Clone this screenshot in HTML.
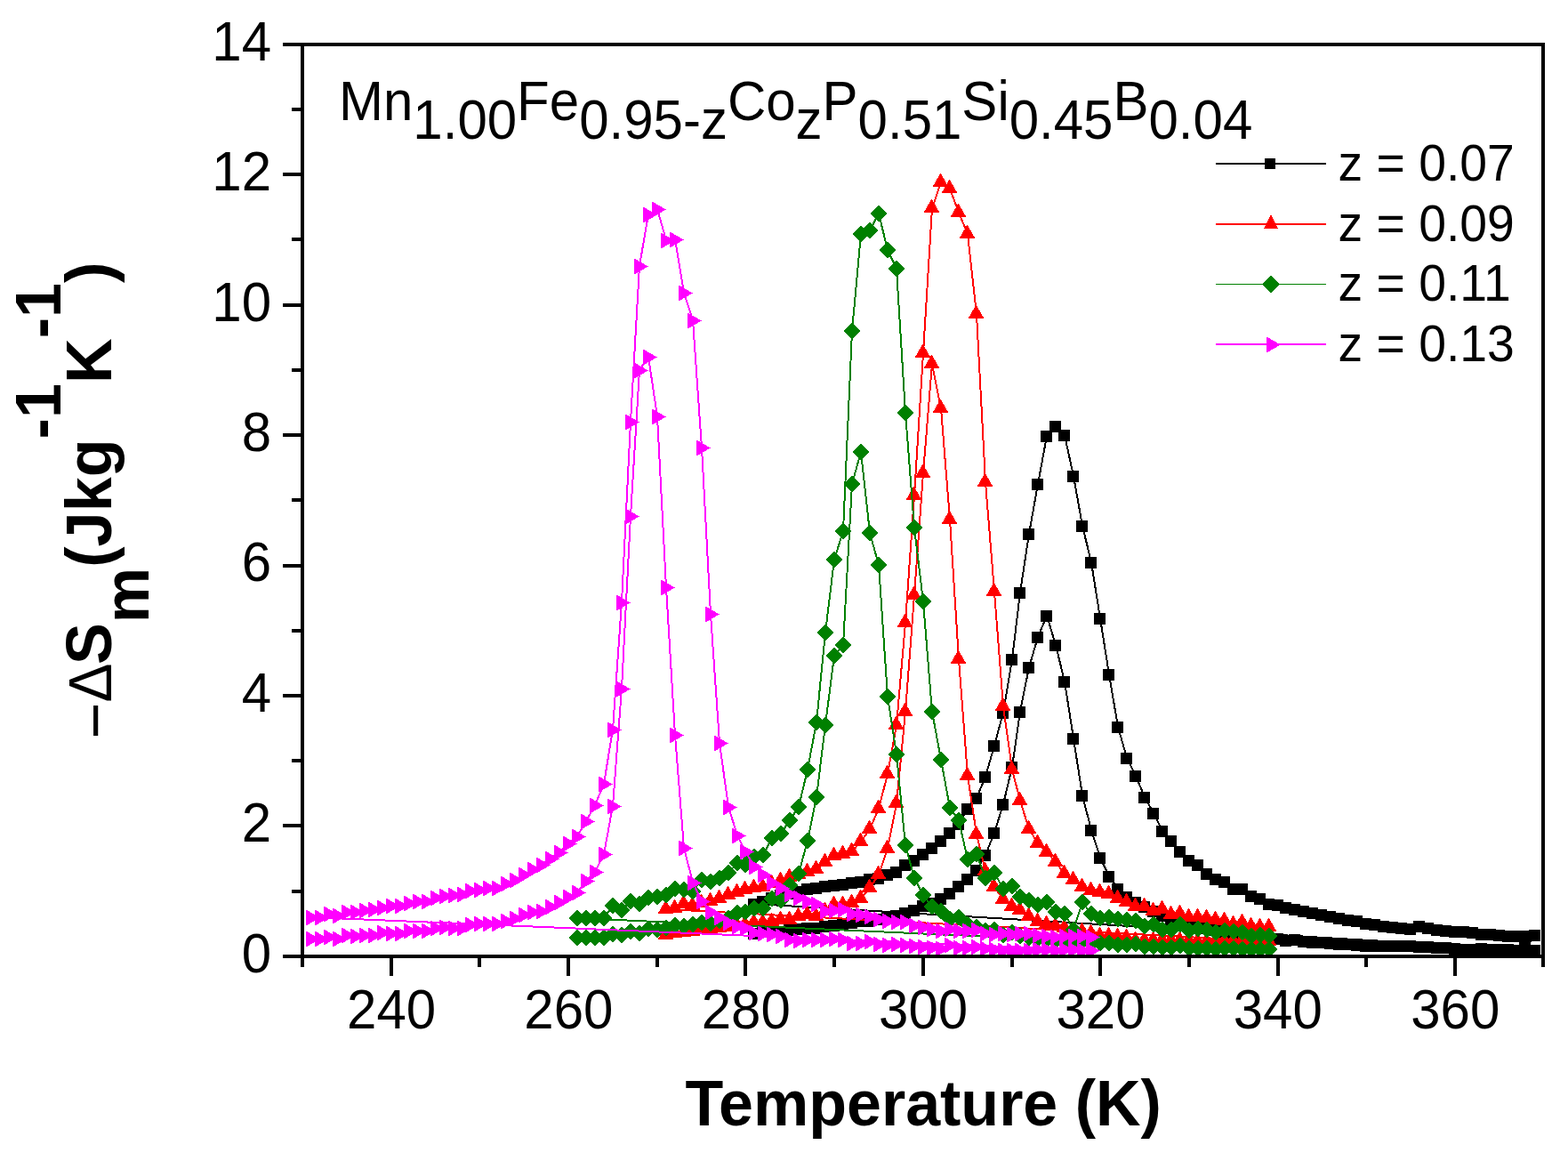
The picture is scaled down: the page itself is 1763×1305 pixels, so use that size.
<!DOCTYPE html>
<html><head><meta charset="utf-8"><title>Magnetic entropy change</title>
<style>
html,body{margin:0;padding:0;background:#fff;}
body{width:1763px;height:1305px;overflow:hidden;}
svg{display:block;}
text{font-family:"Liberation Sans",sans-serif;fill:#000;}
.b{font-weight:bold;}
</style></head><body>
<svg width="1763" height="1305" viewBox="0 0 1763 1305">
<rect width="1763" height="1305" fill="#fff"/>

<g shape-rendering="crispEdges">
<path d="M848 1049L858 1047L868 1047L878 1047L888 1045L898 1044L908 1043L918 1043L928 1041L938 1040L948 1038L958 1037L968 1035L978 1035L988 1033L998 1031L1008 1029L1018 1026L1028 1023L1038 1018L1048 1015L1058 1010L1068 1004L1078 996L1088 988L1098 978L1108 961L1118 936L1128 904L1138 862L1147 800L1157 750L1167 716L1177 692L1187 725L1197 766L1207 830L1217 894L1227 933L1237 964L1247 985L1257 999L1267 1008L1277 1014L1287 1019L1297 1024L1307 1029L1317 1033L1327 1037L1337 1039L1347 1042L1357 1043L1367 1045L1377 1047L1387 1050L1397 1051L1407 1051L1417 1052L1427 1054L1437 1055L1446 1057L1456 1056L1466 1058L1476 1059L1486 1059L1496 1060L1506 1061L1516 1061L1526 1062L1536 1063L1546 1063L1556 1063L1566 1063L1576 1063L1586 1063L1596 1064L1606 1064L1616 1065L1626 1065L1636 1066L1646 1067L1656 1067L1666 1066L1676 1067L1686 1067L1696 1067L1706 1068L1715 1061L1716 1068L1726 1068L848 1016L858 1013L868 1009L878 1006L888 1004L898 1002L908 999L918 998L928 996L938 995L948 994L958 992L968 991L978 988L988 987L998 983L1008 980L1018 972L1028 967L1038 960L1048 953L1058 945L1068 936L1078 926L1088 909L1098 897L1108 873L1118 838L1128 801L1138 741L1147 666L1157 600L1167 544L1177 490L1187 479L1197 489L1207 535L1217 591L1227 632L1237 695L1247 758L1257 817L1267 852L1277 872L1287 896L1297 914L1307 934L1317 945L1327 957L1337 967L1347 972L1357 982L1367 988L1377 991L1387 999L1397 999L1407 1007L1417 1010L1427 1016L1437 1017L1446 1020L1456 1022L1466 1024L1476 1026L1486 1028L1496 1030L1506 1032L1516 1034L1526 1035L1536 1038L1546 1039L1556 1041L1566 1042L1576 1043L1586 1044L1596 1041L1606 1043L1616 1045L1626 1046L1636 1047L1646 1047L1656 1048L1666 1050L1676 1050L1686 1051L1696 1052L1706 1052L1716 1052L1726 1051" fill="none" stroke="#000000" stroke-width="2" stroke-linejoin="round"/>
<path d="M841 1043h13v13h-13zM851 1041h13v13h-13zM861 1041h13v13h-13zM871 1041h13v13h-13zM881 1039h13v13h-13zM891 1038h13v13h-13zM901 1037h13v13h-13zM911 1037h13v13h-13zM921 1035h13v13h-13zM931 1034h13v13h-13zM941 1032h13v13h-13zM951 1031h13v13h-13zM961 1029h13v13h-13zM971 1029h13v13h-13zM981 1027h13v13h-13zM991 1025h13v13h-13zM1001 1023h13v13h-13zM1011 1020h13v13h-13zM1021 1017h13v13h-13zM1031 1012h13v13h-13zM1041 1009h13v13h-13zM1051 1004h13v13h-13zM1061 998h13v13h-13zM1071 990h13v13h-13zM1081 982h13v13h-13zM1091 972h13v13h-13zM1101 955h13v13h-13zM1111 930h13v13h-13zM1121 898h13v13h-13zM1131 856h13v13h-13zM1140 794h13v13h-13zM1150 744h13v13h-13zM1160 710h13v13h-13zM1170 686h13v13h-13zM1180 719h13v13h-13zM1190 760h13v13h-13zM1200 824h13v13h-13zM1210 888h13v13h-13zM1220 927h13v13h-13zM1230 958h13v13h-13zM1240 979h13v13h-13zM1250 993h13v13h-13zM1260 1002h13v13h-13zM1270 1008h13v13h-13zM1280 1013h13v13h-13zM1290 1018h13v13h-13zM1300 1023h13v13h-13zM1310 1027h13v13h-13zM1320 1031h13v13h-13zM1330 1033h13v13h-13zM1340 1036h13v13h-13zM1350 1037h13v13h-13zM1360 1039h13v13h-13zM1370 1041h13v13h-13zM1380 1044h13v13h-13zM1390 1045h13v13h-13zM1400 1045h13v13h-13zM1410 1046h13v13h-13zM1420 1048h13v13h-13zM1430 1049h13v13h-13zM1439 1051h13v13h-13zM1449 1050h13v13h-13zM1459 1052h13v13h-13zM1469 1053h13v13h-13zM1479 1053h13v13h-13zM1489 1054h13v13h-13zM1499 1055h13v13h-13zM1509 1055h13v13h-13zM1519 1056h13v13h-13zM1529 1057h13v13h-13zM1539 1057h13v13h-13zM1549 1057h13v13h-13zM1559 1057h13v13h-13zM1569 1057h13v13h-13zM1579 1057h13v13h-13zM1589 1058h13v13h-13zM1599 1058h13v13h-13zM1609 1059h13v13h-13zM1619 1059h13v13h-13zM1629 1060h13v13h-13zM1639 1061h13v13h-13zM1649 1061h13v13h-13zM1659 1060h13v13h-13zM1669 1061h13v13h-13zM1679 1061h13v13h-13zM1689 1061h13v13h-13zM1699 1062h13v13h-13zM1708 1055h13v13h-13zM1709 1062h13v13h-13zM1719 1062h13v13h-13zM841 1010h13v13h-13zM851 1007h13v13h-13zM861 1003h13v13h-13zM871 1000h13v13h-13zM881 998h13v13h-13zM891 996h13v13h-13zM901 993h13v13h-13zM911 992h13v13h-13zM921 990h13v13h-13zM931 989h13v13h-13zM941 988h13v13h-13zM951 986h13v13h-13zM961 985h13v13h-13zM971 982h13v13h-13zM981 981h13v13h-13zM991 977h13v13h-13zM1001 974h13v13h-13zM1011 966h13v13h-13zM1021 961h13v13h-13zM1031 954h13v13h-13zM1041 947h13v13h-13zM1051 939h13v13h-13zM1061 930h13v13h-13zM1071 920h13v13h-13zM1081 903h13v13h-13zM1091 891h13v13h-13zM1101 867h13v13h-13zM1111 832h13v13h-13zM1121 795h13v13h-13zM1131 735h13v13h-13zM1140 660h13v13h-13zM1150 594h13v13h-13zM1160 538h13v13h-13zM1170 484h13v13h-13zM1180 473h13v13h-13zM1190 483h13v13h-13zM1200 529h13v13h-13zM1210 585h13v13h-13zM1220 626h13v13h-13zM1230 689h13v13h-13zM1240 752h13v13h-13zM1250 811h13v13h-13zM1260 846h13v13h-13zM1270 866h13v13h-13zM1280 890h13v13h-13zM1290 908h13v13h-13zM1300 928h13v13h-13zM1310 939h13v13h-13zM1320 951h13v13h-13zM1330 961h13v13h-13zM1340 966h13v13h-13zM1350 976h13v13h-13zM1360 982h13v13h-13zM1370 985h13v13h-13zM1380 993h13v13h-13zM1390 993h13v13h-13zM1400 1001h13v13h-13zM1410 1004h13v13h-13zM1420 1010h13v13h-13zM1430 1011h13v13h-13zM1439 1014h13v13h-13zM1449 1016h13v13h-13zM1459 1018h13v13h-13zM1469 1020h13v13h-13zM1479 1022h13v13h-13zM1489 1024h13v13h-13zM1499 1026h13v13h-13zM1509 1028h13v13h-13zM1519 1029h13v13h-13zM1529 1032h13v13h-13zM1539 1033h13v13h-13zM1549 1035h13v13h-13zM1559 1036h13v13h-13zM1569 1037h13v13h-13zM1579 1038h13v13h-13zM1589 1035h13v13h-13zM1599 1037h13v13h-13zM1609 1039h13v13h-13zM1619 1040h13v13h-13zM1629 1041h13v13h-13zM1639 1041h13v13h-13zM1649 1042h13v13h-13zM1659 1044h13v13h-13zM1669 1044h13v13h-13zM1679 1045h13v13h-13zM1689 1046h13v13h-13zM1699 1046h13v13h-13zM1709 1046h13v13h-13zM1719 1045h13v13h-13z" fill="#000000"/>
<path d="M749 1051L759 1049L769 1048L779 1047L789 1045L799 1044L809 1043L819 1042L829 1040L838 1039L848 1037L858 1037L868 1036L878 1034L888 1034L898 1030L908 1028L918 1030L928 1024L938 1017L948 1017L958 1015L968 1010L978 998L988 983L998 954L1008 903L1018 800L1028 669L1038 532L1048 409L1058 459L1068 584L1078 741L1088 872L1098 938L1108 979L1118 997L1128 1011L1138 1019L1147 1023L1157 1030L1167 1036L1177 1039L1187 1041L1197 1043L1207 1046L1217 1047L1227 1049L1237 1052L1247 1052L1257 1053L1267 1054L1277 1057L1287 1057L1297 1057L1307 1057L1317 1057L1327 1057L1337 1057L1347 1058L1357 1058L1367 1058L1377 1058L1387 1058L1397 1057L1407 1058L1417 1057L1427 1058L749 1022L759 1021L769 1016L779 1018L789 1015L799 1013L809 1010L819 1006L829 1003L838 1000L848 998L858 997L868 993L878 990L888 986L898 983L908 980L918 977L928 969L938 962L948 960L958 957L968 946L978 932L988 909L998 870L1008 815L1018 700L1028 557L1038 397L1048 234L1058 205L1068 212L1078 239L1088 263L1098 353L1108 542L1118 665L1128 794L1138 865L1147 900L1157 932L1167 948L1177 958L1187 969L1197 982L1207 989L1217 997L1227 1001L1237 1003L1247 1005L1257 1010L1267 1014L1277 1019L1287 1019L1297 1024L1307 1022L1317 1028L1327 1027L1337 1031L1347 1031L1357 1032L1367 1034L1377 1035L1387 1039L1397 1037L1407 1041L1417 1042L1427 1042" fill="none" stroke="#ff0000" stroke-width="2" stroke-linejoin="round"/>
<path d="M748.5 1040.5L757.5 1056H739.5zM758.5 1038.5L767.5 1054H749.5zM768.5 1037.5L777.5 1053H759.5zM778.5 1036.5L787.5 1052H769.5zM788.5 1034.5L797.5 1050H779.5zM798.5 1033.5L807.5 1049H789.5zM808.5 1032.5L817.5 1048H799.5zM818.5 1031.5L827.5 1047H809.5zM828.5 1029.5L837.5 1045H819.5zM837.5 1028.5L846.5 1044H828.5zM847.5 1026.5L856.5 1042H838.5zM857.5 1026.5L866.5 1042H848.5zM867.5 1025.5L876.5 1041H858.5zM877.5 1023.5L886.5 1039H868.5zM887.5 1023.5L896.5 1039H878.5zM897.5 1019.5L906.5 1035H888.5zM907.5 1017.5L916.5 1033H898.5zM917.5 1019.5L926.5 1035H908.5zM927.5 1013.5L936.5 1029H918.5zM937.5 1006.5L946.5 1022H928.5zM947.5 1006.5L956.5 1022H938.5zM957.5 1004.5L966.5 1020H948.5zM967.5 999.5L976.5 1015H958.5zM977.5 987.5L986.5 1003H968.5zM987.5 972.5L996.5 988H978.5zM997.5 943.5L1006.5 959H988.5zM1007.5 892.5L1016.5 908H998.5zM1017.5 789.5L1026.5 805H1008.5zM1027.5 658.5L1036.5 674H1018.5zM1037.5 521.5L1046.5 537H1028.5zM1047.5 398.5L1056.5 414H1038.5zM1057.5 448.5L1066.5 464H1048.5zM1067.5 573.5L1076.5 589H1058.5zM1077.5 730.5L1086.5 746H1068.5zM1087.5 861.5L1096.5 877H1078.5zM1097.5 927.5L1106.5 943H1088.5zM1107.5 968.5L1116.5 984H1098.5zM1117.5 986.5L1126.5 1002H1108.5zM1127.5 1000.5L1136.5 1016H1118.5zM1137.5 1008.5L1146.5 1024H1128.5zM1146.5 1012.5L1155.5 1028H1137.5zM1156.5 1019.5L1165.5 1035H1147.5zM1166.5 1025.5L1175.5 1041H1157.5zM1176.5 1028.5L1185.5 1044H1167.5zM1186.5 1030.5L1195.5 1046H1177.5zM1196.5 1032.5L1205.5 1048H1187.5zM1206.5 1035.5L1215.5 1051H1197.5zM1216.5 1036.5L1225.5 1052H1207.5zM1226.5 1038.5L1235.5 1054H1217.5zM1236.5 1041.5L1245.5 1057H1227.5zM1246.5 1041.5L1255.5 1057H1237.5zM1256.5 1042.5L1265.5 1058H1247.5zM1266.5 1043.5L1275.5 1059H1257.5zM1276.5 1046.5L1285.5 1062H1267.5zM1286.5 1046.5L1295.5 1062H1277.5zM1296.5 1046.5L1305.5 1062H1287.5zM1306.5 1046.5L1315.5 1062H1297.5zM1316.5 1046.5L1325.5 1062H1307.5zM1326.5 1046.5L1335.5 1062H1317.5zM1336.5 1046.5L1345.5 1062H1327.5zM1346.5 1047.5L1355.5 1063H1337.5zM1356.5 1047.5L1365.5 1063H1347.5zM1366.5 1047.5L1375.5 1063H1357.5zM1376.5 1047.5L1385.5 1063H1367.5zM1386.5 1047.5L1395.5 1063H1377.5zM1396.5 1046.5L1405.5 1062H1387.5zM1406.5 1047.5L1415.5 1063H1397.5zM1416.5 1046.5L1425.5 1062H1407.5zM1426.5 1047.5L1435.5 1063H1417.5zM748.5 1011.5L757.5 1027H739.5zM758.5 1010.5L767.5 1026H749.5zM768.5 1005.5L777.5 1021H759.5zM778.5 1007.5L787.5 1023H769.5zM788.5 1004.5L797.5 1020H779.5zM798.5 1002.5L807.5 1018H789.5zM808.5 999.5L817.5 1015H799.5zM818.5 995.5L827.5 1011H809.5zM828.5 992.5L837.5 1008H819.5zM837.5 989.5L846.5 1005H828.5zM847.5 987.5L856.5 1003H838.5zM857.5 986.5L866.5 1002H848.5zM867.5 982.5L876.5 998H858.5zM877.5 979.5L886.5 995H868.5zM887.5 975.5L896.5 991H878.5zM897.5 972.5L906.5 988H888.5zM907.5 969.5L916.5 985H898.5zM917.5 966.5L926.5 982H908.5zM927.5 958.5L936.5 974H918.5zM937.5 951.5L946.5 967H928.5zM947.5 949.5L956.5 965H938.5zM957.5 946.5L966.5 962H948.5zM967.5 935.5L976.5 951H958.5zM977.5 921.5L986.5 937H968.5zM987.5 898.5L996.5 914H978.5zM997.5 859.5L1006.5 875H988.5zM1007.5 804.5L1016.5 820H998.5zM1017.5 689.5L1026.5 705H1008.5zM1027.5 546.5L1036.5 562H1018.5zM1037.5 386.5L1046.5 402H1028.5zM1047.5 223.5L1056.5 239H1038.5zM1057.5 194.5L1066.5 210H1048.5zM1067.5 201.5L1076.5 217H1058.5zM1077.5 228.5L1086.5 244H1068.5zM1087.5 252.5L1096.5 268H1078.5zM1097.5 342.5L1106.5 358H1088.5zM1107.5 531.5L1116.5 547H1098.5zM1117.5 654.5L1126.5 670H1108.5zM1127.5 783.5L1136.5 799H1118.5zM1137.5 854.5L1146.5 870H1128.5zM1146.5 889.5L1155.5 905H1137.5zM1156.5 921.5L1165.5 937H1147.5zM1166.5 937.5L1175.5 953H1157.5zM1176.5 947.5L1185.5 963H1167.5zM1186.5 958.5L1195.5 974H1177.5zM1196.5 971.5L1205.5 987H1187.5zM1206.5 978.5L1215.5 994H1197.5zM1216.5 986.5L1225.5 1002H1207.5zM1226.5 990.5L1235.5 1006H1217.5zM1236.5 992.5L1245.5 1008H1227.5zM1246.5 994.5L1255.5 1010H1237.5zM1256.5 999.5L1265.5 1015H1247.5zM1266.5 1003.5L1275.5 1019H1257.5zM1276.5 1008.5L1285.5 1024H1267.5zM1286.5 1008.5L1295.5 1024H1277.5zM1296.5 1013.5L1305.5 1029H1287.5zM1306.5 1011.5L1315.5 1027H1297.5zM1316.5 1017.5L1325.5 1033H1307.5zM1326.5 1016.5L1335.5 1032H1317.5zM1336.5 1020.5L1345.5 1036H1327.5zM1346.5 1020.5L1355.5 1036H1337.5zM1356.5 1021.5L1365.5 1037H1347.5zM1366.5 1023.5L1375.5 1039H1357.5zM1376.5 1024.5L1385.5 1040H1367.5zM1386.5 1028.5L1395.5 1044H1377.5zM1396.5 1026.5L1405.5 1042H1387.5zM1406.5 1030.5L1415.5 1046H1397.5zM1416.5 1031.5L1425.5 1047H1407.5zM1426.5 1031.5L1435.5 1047H1417.5z" fill="#ff0000"/>
<path d="M649 1054L659 1054L669 1054L679 1054L689 1050L699 1051L709 1047L719 1049L729 1044L739 1045L749 1043L759 1040L769 1041L779 1039L789 1037L799 1038L809 1035L819 1032L829 1026L838 1025L848 1021L858 1021L868 1010L878 1012L888 995L898 982L908 945L918 896L928 815L938 737L948 725L958 544L968 508L978 599L988 635L998 783L1008 848L1018 950L1028 987L1038 1006L1048 1019L1058 1024L1068 1033L1078 1031L1088 1039L1098 1042L1108 1046L1118 1045L1128 1051L1138 1048L1147 1052L1157 1054L1167 1055L1177 1056L1187 1057L1197 1058L1207 1058L1217 1058L1227 1060L1237 1060L1247 1060L1257 1062L1267 1062L1277 1061L1287 1064L1297 1064L1307 1065L1317 1065L1327 1063L1337 1066L1347 1066L1357 1066L1367 1067L1377 1066L1387 1066L1397 1067L1407 1067L1417 1067L1427 1067L649 1032L659 1032L669 1032L679 1032L689 1018L699 1023L709 1013L719 1016L729 1009L739 1008L749 1006L759 999L769 1000L779 1002L789 989L799 991L809 987L819 981L829 970L838 972L848 963L858 961L868 942L878 937L888 922L898 907L908 865L918 812L928 711L938 629L948 597L958 372L968 263L978 259L988 240L998 281L1008 302L1018 464L1028 593L1038 676L1048 800L1058 854L1068 908L1078 922L1088 966L1098 960L1108 987L1118 981L1128 999L1138 996L1147 1008L1157 1012L1167 1017L1177 1014L1187 1025L1197 1027L1207 1045L1217 1014L1227 1027L1237 1032L1247 1031L1257 1033L1267 1034L1277 1035L1287 1041L1297 1039L1307 1045L1317 1045L1327 1039L1337 1046L1347 1044L1357 1045L1367 1048L1377 1046L1387 1047L1397 1048L1407 1052L1417 1051L1427 1052" fill="none" stroke="#008000" stroke-width="2" stroke-linejoin="round"/>
<path d="M639.5 1054L649 1044L658.5 1054L649 1064zM649.5 1054L659 1044L668.5 1054L659 1064zM659.5 1054L669 1044L678.5 1054L669 1064zM669.5 1054L679 1044L688.5 1054L679 1064zM679.5 1050L689 1040L698.5 1050L689 1060zM689.5 1051L699 1041L708.5 1051L699 1061zM699.5 1047L709 1037L718.5 1047L709 1057zM709.5 1049L719 1039L728.5 1049L719 1059zM719.5 1044L729 1034L738.5 1044L729 1054zM729.5 1045L739 1035L748.5 1045L739 1055zM739.5 1043L749 1033L758.5 1043L749 1053zM749.5 1040L759 1030L768.5 1040L759 1050zM759.5 1041L769 1031L778.5 1041L769 1051zM769.5 1039L779 1029L788.5 1039L779 1049zM779.5 1037L789 1027L798.5 1037L789 1047zM789.5 1038L799 1028L808.5 1038L799 1048zM799.5 1035L809 1025L818.5 1035L809 1045zM809.5 1032L819 1022L828.5 1032L819 1042zM819.5 1026L829 1016L838.5 1026L829 1036zM828.5 1025L838 1015L847.5 1025L838 1035zM838.5 1021L848 1011L857.5 1021L848 1031zM848.5 1021L858 1011L867.5 1021L858 1031zM858.5 1010L868 1000L877.5 1010L868 1020zM868.5 1012L878 1002L887.5 1012L878 1022zM878.5 995L888 985L897.5 995L888 1005zM888.5 982L898 972L907.5 982L898 992zM898.5 945L908 935L917.5 945L908 955zM908.5 896L918 886L927.5 896L918 906zM918.5 815L928 805L937.5 815L928 825zM928.5 737L938 727L947.5 737L938 747zM938.5 725L948 715L957.5 725L948 735zM948.5 544L958 534L967.5 544L958 554zM958.5 508L968 498L977.5 508L968 518zM968.5 599L978 589L987.5 599L978 609zM978.5 635L988 625L997.5 635L988 645zM988.5 783L998 773L1007.5 783L998 793zM998.5 848L1008 838L1017.5 848L1008 858zM1008.5 950L1018 940L1027.5 950L1018 960zM1018.5 987L1028 977L1037.5 987L1028 997zM1028.5 1006L1038 996L1047.5 1006L1038 1016zM1038.5 1019L1048 1009L1057.5 1019L1048 1029zM1048.5 1024L1058 1014L1067.5 1024L1058 1034zM1058.5 1033L1068 1023L1077.5 1033L1068 1043zM1068.5 1031L1078 1021L1087.5 1031L1078 1041zM1078.5 1039L1088 1029L1097.5 1039L1088 1049zM1088.5 1042L1098 1032L1107.5 1042L1098 1052zM1098.5 1046L1108 1036L1117.5 1046L1108 1056zM1108.5 1045L1118 1035L1127.5 1045L1118 1055zM1118.5 1051L1128 1041L1137.5 1051L1128 1061zM1128.5 1048L1138 1038L1147.5 1048L1138 1058zM1137.5 1052L1147 1042L1156.5 1052L1147 1062zM1147.5 1054L1157 1044L1166.5 1054L1157 1064zM1157.5 1055L1167 1045L1176.5 1055L1167 1065zM1167.5 1056L1177 1046L1186.5 1056L1177 1066zM1177.5 1057L1187 1047L1196.5 1057L1187 1067zM1187.5 1058L1197 1048L1206.5 1058L1197 1068zM1197.5 1058L1207 1048L1216.5 1058L1207 1068zM1207.5 1058L1217 1048L1226.5 1058L1217 1068zM1217.5 1060L1227 1050L1236.5 1060L1227 1070zM1227.5 1060L1237 1050L1246.5 1060L1237 1070zM1237.5 1060L1247 1050L1256.5 1060L1247 1070zM1247.5 1062L1257 1052L1266.5 1062L1257 1072zM1257.5 1062L1267 1052L1276.5 1062L1267 1072zM1267.5 1061L1277 1051L1286.5 1061L1277 1071zM1277.5 1064L1287 1054L1296.5 1064L1287 1074zM1287.5 1064L1297 1054L1306.5 1064L1297 1074zM1297.5 1065L1307 1055L1316.5 1065L1307 1075zM1307.5 1065L1317 1055L1326.5 1065L1317 1075zM1317.5 1063L1327 1053L1336.5 1063L1327 1073zM1327.5 1066L1337 1056L1346.5 1066L1337 1076zM1337.5 1066L1347 1056L1356.5 1066L1347 1076zM1347.5 1066L1357 1056L1366.5 1066L1357 1076zM1357.5 1067L1367 1057L1376.5 1067L1367 1077zM1367.5 1066L1377 1056L1386.5 1066L1377 1076zM1377.5 1066L1387 1056L1396.5 1066L1387 1076zM1387.5 1067L1397 1057L1406.5 1067L1397 1077zM1397.5 1067L1407 1057L1416.5 1067L1407 1077zM1407.5 1067L1417 1057L1426.5 1067L1417 1077zM1417.5 1067L1427 1057L1436.5 1067L1427 1077zM639.5 1032L649 1022L658.5 1032L649 1042zM649.5 1032L659 1022L668.5 1032L659 1042zM659.5 1032L669 1022L678.5 1032L669 1042zM669.5 1032L679 1022L688.5 1032L679 1042zM679.5 1018L689 1008L698.5 1018L689 1028zM689.5 1023L699 1013L708.5 1023L699 1033zM699.5 1013L709 1003L718.5 1013L709 1023zM709.5 1016L719 1006L728.5 1016L719 1026zM719.5 1009L729 999L738.5 1009L729 1019zM729.5 1008L739 998L748.5 1008L739 1018zM739.5 1006L749 996L758.5 1006L749 1016zM749.5 999L759 989L768.5 999L759 1009zM759.5 1000L769 990L778.5 1000L769 1010zM769.5 1002L779 992L788.5 1002L779 1012zM779.5 989L789 979L798.5 989L789 999zM789.5 991L799 981L808.5 991L799 1001zM799.5 987L809 977L818.5 987L809 997zM809.5 981L819 971L828.5 981L819 991zM819.5 970L829 960L838.5 970L829 980zM828.5 972L838 962L847.5 972L838 982zM838.5 963L848 953L857.5 963L848 973zM848.5 961L858 951L867.5 961L858 971zM858.5 942L868 932L877.5 942L868 952zM868.5 937L878 927L887.5 937L878 947zM878.5 922L888 912L897.5 922L888 932zM888.5 907L898 897L907.5 907L898 917zM898.5 865L908 855L917.5 865L908 875zM908.5 812L918 802L927.5 812L918 822zM918.5 711L928 701L937.5 711L928 721zM928.5 629L938 619L947.5 629L938 639zM938.5 597L948 587L957.5 597L948 607zM948.5 372L958 362L967.5 372L958 382zM958.5 263L968 253L977.5 263L968 273zM968.5 259L978 249L987.5 259L978 269zM978.5 240L988 230L997.5 240L988 250zM988.5 281L998 271L1007.5 281L998 291zM998.5 302L1008 292L1017.5 302L1008 312zM1008.5 464L1018 454L1027.5 464L1018 474zM1018.5 593L1028 583L1037.5 593L1028 603zM1028.5 676L1038 666L1047.5 676L1038 686zM1038.5 800L1048 790L1057.5 800L1048 810zM1048.5 854L1058 844L1067.5 854L1058 864zM1058.5 908L1068 898L1077.5 908L1068 918zM1068.5 922L1078 912L1087.5 922L1078 932zM1078.5 966L1088 956L1097.5 966L1088 976zM1088.5 960L1098 950L1107.5 960L1098 970zM1098.5 987L1108 977L1117.5 987L1108 997zM1108.5 981L1118 971L1127.5 981L1118 991zM1118.5 999L1128 989L1137.5 999L1128 1009zM1128.5 996L1138 986L1147.5 996L1138 1006zM1137.5 1008L1147 998L1156.5 1008L1147 1018zM1147.5 1012L1157 1002L1166.5 1012L1157 1022zM1157.5 1017L1167 1007L1176.5 1017L1167 1027zM1167.5 1014L1177 1004L1186.5 1014L1177 1024zM1177.5 1025L1187 1015L1196.5 1025L1187 1035zM1187.5 1027L1197 1017L1206.5 1027L1197 1037zM1197.5 1045L1207 1035L1216.5 1045L1207 1055zM1207.5 1014L1217 1004L1226.5 1014L1217 1024zM1217.5 1027L1227 1017L1236.5 1027L1227 1037zM1227.5 1032L1237 1022L1246.5 1032L1237 1042zM1237.5 1031L1247 1021L1256.5 1031L1247 1041zM1247.5 1033L1257 1023L1266.5 1033L1257 1043zM1257.5 1034L1267 1024L1276.5 1034L1267 1044zM1267.5 1035L1277 1025L1286.5 1035L1277 1045zM1277.5 1041L1287 1031L1296.5 1041L1287 1051zM1287.5 1039L1297 1029L1306.5 1039L1297 1049zM1297.5 1045L1307 1035L1316.5 1045L1307 1055zM1307.5 1045L1317 1035L1326.5 1045L1317 1055zM1317.5 1039L1327 1029L1336.5 1039L1327 1049zM1327.5 1046L1337 1036L1346.5 1046L1337 1056zM1337.5 1044L1347 1034L1356.5 1044L1347 1054zM1347.5 1045L1357 1035L1366.5 1045L1357 1055zM1357.5 1048L1367 1038L1376.5 1048L1367 1058zM1367.5 1046L1377 1036L1386.5 1046L1377 1056zM1377.5 1047L1387 1037L1396.5 1047L1387 1057zM1387.5 1048L1397 1038L1406.5 1048L1397 1058zM1397.5 1052L1407 1042L1416.5 1052L1407 1062zM1407.5 1051L1417 1041L1426.5 1051L1417 1061zM1417.5 1052L1427 1042L1436.5 1052L1427 1062z" fill="#008000"/>
<path d="M350 1055L360 1055L370 1053L380 1055L390 1051L400 1052L410 1051L420 1051L430 1048L440 1049L450 1049L460 1046L470 1046L480 1046L490 1043L500 1042L510 1043L520 1043L529 1039L539 1038L549 1038L559 1038L569 1035L579 1032L589 1028L599 1025L609 1024L619 1019L629 1014L639 1008L649 1003L659 990L669 980L679 960L689 906L699 774L709 580L719 416L729 401L739 468L749 660L759 826L769 953L779 992L789 1013L799 1025L809 1031L819 1037L829 1041L838 1043L848 1048L858 1049L868 1050L878 1052L888 1056L898 1057L908 1056L918 1056L928 1056L938 1055L948 1056L958 1060L968 1060L978 1058L988 1061L998 1062L1008 1061L1018 1062L1028 1063L1038 1064L1048 1065L1058 1066L1068 1062L1078 1065L1088 1065L1098 1064L1108 1066L1118 1067L1128 1068L1138 1068L1147 1068L1157 1068L1167 1067L1177 1067L1187 1068L1197 1067L1207 1067L1217 1068L1227 1068L350 1031L360 1031L370 1027L380 1029L390 1025L400 1025L410 1023L420 1022L430 1020L440 1018L450 1018L460 1015L470 1013L480 1013L490 1009L500 1007L510 1006L520 1005L529 1001L539 1000L549 998L559 998L569 993L579 989L589 983L599 977L609 972L619 965L629 958L639 948L649 940L659 923L669 905L679 881L689 820L699 677L709 474L719 299L729 241L739 235L749 270L759 269L769 329L779 360L789 503L799 690L809 835L819 907L829 939L838 957L848 974L858 983L868 992L878 998L888 1005L898 1009L908 1013L918 1016L928 1024L938 1023L948 1022L958 1027L968 1028L978 1030L988 1033L998 1035L1008 1036L1018 1036L1028 1040L1038 1042L1048 1044L1058 1046L1068 1044L1078 1046L1088 1046L1098 1045L1108 1049L1118 1050L1128 1049L1138 1050L1147 1049L1157 1049L1167 1051L1177 1052L1187 1053L1197 1052L1207 1052L1217 1052L1227 1053" fill="none" stroke="#ff00ff" stroke-width="2" stroke-linejoin="round"/>
<path d="M344 1046.5L360 1055.5L344 1064.5zM354 1046.5L370 1055.5L354 1064.5zM364 1044.5L380 1053.5L364 1062.5zM374 1046.5L390 1055.5L374 1064.5zM384 1042.5L400 1051.5L384 1060.5zM394 1043.5L410 1052.5L394 1061.5zM404 1042.5L420 1051.5L404 1060.5zM414 1042.5L430 1051.5L414 1060.5zM424 1039.5L440 1048.5L424 1057.5zM434 1040.5L450 1049.5L434 1058.5zM444 1040.5L460 1049.5L444 1058.5zM454 1037.5L470 1046.5L454 1055.5zM464 1037.5L480 1046.5L464 1055.5zM474 1037.5L490 1046.5L474 1055.5zM484 1034.5L500 1043.5L484 1052.5zM494 1033.5L510 1042.5L494 1051.5zM504 1034.5L520 1043.5L504 1052.5zM514 1034.5L530 1043.5L514 1052.5zM523 1030.5L539 1039.5L523 1048.5zM533 1029.5L549 1038.5L533 1047.5zM543 1029.5L559 1038.5L543 1047.5zM553 1029.5L569 1038.5L553 1047.5zM563 1026.5L579 1035.5L563 1044.5zM573 1023.5L589 1032.5L573 1041.5zM583 1019.5L599 1028.5L583 1037.5zM593 1016.5L609 1025.5L593 1034.5zM603 1015.5L619 1024.5L603 1033.5zM613 1010.5L629 1019.5L613 1028.5zM623 1005.5L639 1014.5L623 1023.5zM633 999.5L649 1008.5L633 1017.5zM643 994.5L659 1003.5L643 1012.5zM653 981.5L669 990.5L653 999.5zM663 971.5L679 980.5L663 989.5zM673 951.5L689 960.5L673 969.5zM683 897.5L699 906.5L683 915.5zM693 765.5L709 774.5L693 783.5zM703 571.5L719 580.5L703 589.5zM713 407.5L729 416.5L713 425.5zM723 392.5L739 401.5L723 410.5zM733 459.5L749 468.5L733 477.5zM743 651.5L759 660.5L743 669.5zM753 817.5L769 826.5L753 835.5zM763 944.5L779 953.5L763 962.5zM773 983.5L789 992.5L773 1001.5zM783 1004.5L799 1013.5L783 1022.5zM793 1016.5L809 1025.5L793 1034.5zM803 1022.5L819 1031.5L803 1040.5zM813 1028.5L829 1037.5L813 1046.5zM823 1032.5L839 1041.5L823 1050.5zM832 1034.5L848 1043.5L832 1052.5zM842 1039.5L858 1048.5L842 1057.5zM852 1040.5L868 1049.5L852 1058.5zM862 1041.5L878 1050.5L862 1059.5zM872 1043.5L888 1052.5L872 1061.5zM882 1047.5L898 1056.5L882 1065.5zM892 1048.5L908 1057.5L892 1066.5zM902 1047.5L918 1056.5L902 1065.5zM912 1047.5L928 1056.5L912 1065.5zM922 1047.5L938 1056.5L922 1065.5zM932 1046.5L948 1055.5L932 1064.5zM942 1047.5L958 1056.5L942 1065.5zM952 1051.5L968 1060.5L952 1069.5zM962 1051.5L978 1060.5L962 1069.5zM972 1049.5L988 1058.5L972 1067.5zM982 1052.5L998 1061.5L982 1070.5zM992 1053.5L1008 1062.5L992 1071.5zM1002 1052.5L1018 1061.5L1002 1070.5zM1012 1053.5L1028 1062.5L1012 1071.5zM1022 1054.5L1038 1063.5L1022 1072.5zM1032 1055.5L1048 1064.5L1032 1073.5zM1042 1056.5L1058 1065.5L1042 1074.5zM1052 1057.5L1068 1066.5L1052 1075.5zM1062 1053.5L1078 1062.5L1062 1071.5zM1072 1056.5L1088 1065.5L1072 1074.5zM1082 1056.5L1098 1065.5L1082 1074.5zM1092 1055.5L1108 1064.5L1092 1073.5zM1102 1057.5L1118 1066.5L1102 1075.5zM1112 1058.5L1128 1067.5L1112 1076.5zM1122 1059.5L1138 1068.5L1122 1077.5zM1132 1059.5L1148 1068.5L1132 1077.5zM1141 1059.5L1157 1068.5L1141 1077.5zM1151 1059.5L1167 1068.5L1151 1077.5zM1161 1058.5L1177 1067.5L1161 1076.5zM1171 1058.5L1187 1067.5L1171 1076.5zM1181 1059.5L1197 1068.5L1181 1077.5zM1191 1058.5L1207 1067.5L1191 1076.5zM1201 1058.5L1217 1067.5L1201 1076.5zM1211 1059.5L1227 1068.5L1211 1077.5zM1221 1059.5L1237 1068.5L1221 1077.5zM344 1022.5L360 1031.5L344 1040.5zM354 1022.5L370 1031.5L354 1040.5zM364 1018.5L380 1027.5L364 1036.5zM374 1020.5L390 1029.5L374 1038.5zM384 1016.5L400 1025.5L384 1034.5zM394 1016.5L410 1025.5L394 1034.5zM404 1014.5L420 1023.5L404 1032.5zM414 1013.5L430 1022.5L414 1031.5zM424 1011.5L440 1020.5L424 1029.5zM434 1009.5L450 1018.5L434 1027.5zM444 1009.5L460 1018.5L444 1027.5zM454 1006.5L470 1015.5L454 1024.5zM464 1004.5L480 1013.5L464 1022.5zM474 1004.5L490 1013.5L474 1022.5zM484 1000.5L500 1009.5L484 1018.5zM494 998.5L510 1007.5L494 1016.5zM504 997.5L520 1006.5L504 1015.5zM514 996.5L530 1005.5L514 1014.5zM523 992.5L539 1001.5L523 1010.5zM533 991.5L549 1000.5L533 1009.5zM543 989.5L559 998.5L543 1007.5zM553 989.5L569 998.5L553 1007.5zM563 984.5L579 993.5L563 1002.5zM573 980.5L589 989.5L573 998.5zM583 974.5L599 983.5L583 992.5zM593 968.5L609 977.5L593 986.5zM603 963.5L619 972.5L603 981.5zM613 956.5L629 965.5L613 974.5zM623 949.5L639 958.5L623 967.5zM633 939.5L649 948.5L633 957.5zM643 931.5L659 940.5L643 949.5zM653 914.5L669 923.5L653 932.5zM663 896.5L679 905.5L663 914.5zM673 872.5L689 881.5L673 890.5zM683 811.5L699 820.5L683 829.5zM693 668.5L709 677.5L693 686.5zM703 465.5L719 474.5L703 483.5zM713 290.5L729 299.5L713 308.5zM723 232.5L739 241.5L723 250.5zM733 226.5L749 235.5L733 244.5zM743 261.5L759 270.5L743 279.5zM753 260.5L769 269.5L753 278.5zM763 320.5L779 329.5L763 338.5zM773 351.5L789 360.5L773 369.5zM783 494.5L799 503.5L783 512.5zM793 681.5L809 690.5L793 699.5zM803 826.5L819 835.5L803 844.5zM813 898.5L829 907.5L813 916.5zM823 930.5L839 939.5L823 948.5zM832 948.5L848 957.5L832 966.5zM842 965.5L858 974.5L842 983.5zM852 974.5L868 983.5L852 992.5zM862 983.5L878 992.5L862 1001.5zM872 989.5L888 998.5L872 1007.5zM882 996.5L898 1005.5L882 1014.5zM892 1000.5L908 1009.5L892 1018.5zM902 1004.5L918 1013.5L902 1022.5zM912 1007.5L928 1016.5L912 1025.5zM922 1015.5L938 1024.5L922 1033.5zM932 1014.5L948 1023.5L932 1032.5zM942 1013.5L958 1022.5L942 1031.5zM952 1018.5L968 1027.5L952 1036.5zM962 1019.5L978 1028.5L962 1037.5zM972 1021.5L988 1030.5L972 1039.5zM982 1024.5L998 1033.5L982 1042.5zM992 1026.5L1008 1035.5L992 1044.5zM1002 1027.5L1018 1036.5L1002 1045.5zM1012 1027.5L1028 1036.5L1012 1045.5zM1022 1031.5L1038 1040.5L1022 1049.5zM1032 1033.5L1048 1042.5L1032 1051.5zM1042 1035.5L1058 1044.5L1042 1053.5zM1052 1037.5L1068 1046.5L1052 1055.5zM1062 1035.5L1078 1044.5L1062 1053.5zM1072 1037.5L1088 1046.5L1072 1055.5zM1082 1037.5L1098 1046.5L1082 1055.5zM1092 1036.5L1108 1045.5L1092 1054.5zM1102 1040.5L1118 1049.5L1102 1058.5zM1112 1041.5L1128 1050.5L1112 1059.5zM1122 1040.5L1138 1049.5L1122 1058.5zM1132 1041.5L1148 1050.5L1132 1059.5zM1141 1040.5L1157 1049.5L1141 1058.5zM1151 1040.5L1167 1049.5L1151 1058.5zM1161 1042.5L1177 1051.5L1161 1060.5zM1171 1043.5L1187 1052.5L1171 1061.5zM1181 1044.5L1197 1053.5L1181 1062.5zM1191 1043.5L1207 1052.5L1191 1061.5zM1201 1043.5L1217 1052.5L1201 1061.5zM1211 1043.5L1227 1052.5L1211 1061.5zM1221 1044.5L1237 1053.5L1221 1062.5z" fill="#ff00ff"/>
<path d="M1367 184H1491" stroke="#000000" stroke-width="2" fill="none"/>
<path d="M1422 178h12v12h-12z" fill="#000000"/>
<path d="M1367 252H1491" stroke="#ff0000" stroke-width="2" fill="none"/>
<path d="M1429 241.5L1437 257H1421z" fill="#ff0000"/>
<path d="M1367 319.5H1491" stroke="#008000" stroke-width="1" fill="none"/>
<path d="M1419.5 319.5L1429 309.5L1438.5 319.5L1429 329.5z" fill="#008000"/>
<path d="M1367 387H1491" stroke="#ff00ff" stroke-width="2" fill="none"/>
<path d="M1424 378.5L1440 387.5L1424 396.5z" fill="#ff00ff"/>
<path d="M318 50H1737M318 1075H1737M340 48V1087M1735 48V1087M318 1075H340M328 1002H340M318 928H340M328 855H340M318 782H340M328 709H340M318 636H340M328 562H340M318 489H340M328 416H340M318 343H340M328 269H340M318 196H340M328 123H340M318 50H340M340 1075V1087M440 1075V1097M539 1075V1087M639 1075V1097M739 1075V1087M838 1075V1097M938 1075V1087M1038 1075V1097M1138 1075V1087M1237 1075V1097M1337 1075V1087M1437 1075V1097M1536 1075V1087M1636 1075V1097M1735 1075V1087" stroke="#000" stroke-width="4" fill="none"/>
</g>
<text transform="translate(305 1092.7) scale(1 1.04)" font-size="60" text-anchor="end">0</text>
<text transform="translate(305 946.3) scale(1 1.04)" font-size="60" text-anchor="end">2</text>
<text transform="translate(305 799.8) scale(1 1.04)" font-size="60" text-anchor="end">4</text>
<text transform="translate(305 653.4) scale(1 1.04)" font-size="60" text-anchor="end">6</text>
<text transform="translate(305 506.9) scale(1 1.04)" font-size="60" text-anchor="end">8</text>
<text transform="translate(305 360.5) scale(1 1.04)" font-size="60" text-anchor="end">10</text>
<text transform="translate(305 214.1) scale(1 1.04)" font-size="60" text-anchor="end">12</text>
<text transform="translate(305 67.6) scale(1 1.04)" font-size="60" text-anchor="end">14</text>
<text transform="translate(440.1 1156.2) scale(1 1.04)" font-size="60" text-anchor="middle">240</text>
<text transform="translate(639.4 1156.2) scale(1 1.04)" font-size="60" text-anchor="middle">260</text>
<text transform="translate(838.8 1156.2) scale(1 1.04)" font-size="60" text-anchor="middle">280</text>
<text transform="translate(1038.1 1156.2) scale(1 1.04)" font-size="60" text-anchor="middle">300</text>
<text transform="translate(1237.5 1156.2) scale(1 1.04)" font-size="60" text-anchor="middle">320</text>
<text transform="translate(1436.8 1156.2) scale(1 1.04)" font-size="60" text-anchor="middle">340</text>
<text transform="translate(1636.2 1156.2) scale(1 1.04)" font-size="60" text-anchor="middle">360</text>
<text transform="translate(1504.5 203.1) scale(1 1.04)" font-size="55.3" xml:space="preserve">z = 0.07</text>
<text transform="translate(1504.5 271.1) scale(1 1.04)" font-size="55.3" xml:space="preserve">z = 0.09</text>
<text transform="translate(1504.5 338.1) scale(1 1.04)" font-size="55.3" xml:space="preserve">z = 0.11</text>
<text transform="translate(1504.5 405.5) scale(1 1.04)" font-size="55.3" xml:space="preserve">z = 0.13</text>
<text transform="translate(381 135) scale(1 1.04)" font-size="60">Mn<tspan dy="20.2">1.00</tspan><tspan dy="-20.2">Fe</tspan><tspan dy="20.2">0.95-z</tspan><tspan dy="-20.2">Co</tspan><tspan dy="20.2">z</tspan><tspan dy="-20.2">P</tspan><tspan dy="20.2">0.51</tspan><tspan dy="-20.2">Si</tspan><tspan dy="20.2">0.45</tspan><tspan dy="-20.2">B</tspan><tspan dy="20.2">0.04</tspan></text>
<text class="b" transform="translate(1038.2 1264.6) scale(1 1.04)" font-size="70" text-anchor="middle">Temperature (K)</text>
<text class="b" transform="translate(125.3 829) rotate(-90) scale(1 1.04)" font-size="70.2"><tspan font-weight="normal" font-size="70" x="-1.5" dy="6.2">−</tspan><tspan font-weight="normal" font-size="65.7" x="39.5" dy="-6.2">Δ</tspan><tspan x="82">S</tspan><tspan dy="39.9">m</tspan><tspan dy="-39.9">(Jkg</tspan><tspan dy="-55.3">-1</tspan><tspan dy="55.3">K</tspan><tspan dy="-55.3">-1</tspan><tspan dy="55.3">)</tspan></text>
</svg></body></html>
